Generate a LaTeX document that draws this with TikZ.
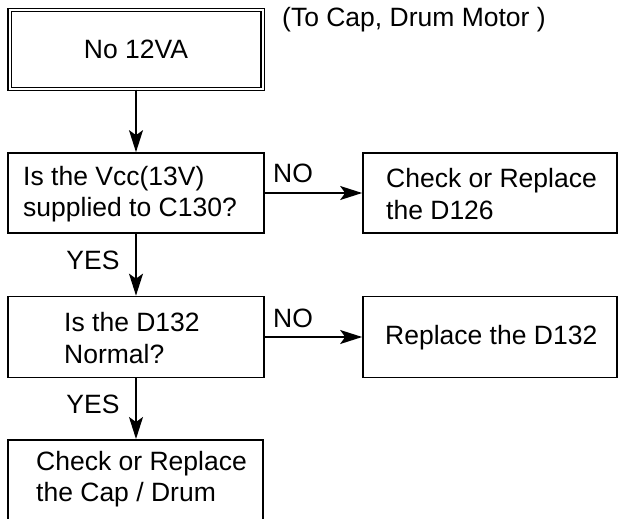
\documentclass[tikz,border=0pt]{standalone}
\usepackage{fontspec}
\setmainfont{Liberation Sans}
\usetikzlibrary{arrows.meta}
\begin{document}
\begin{tikzpicture}[x=1pt,y=-1pt,
  every node/.style={font=\fontsize{26.5}{31.5}\selectfont, inner sep=0pt},
  box/.style={draw, line width=1.7pt, minimum width=256pt, minimum height=81pt},
  arr/.style={draw, line width=1.7pt, -{Stealth[length=22pt,width=14pt,inset=5pt]}},
  lbl/.style={inner sep=0pt}
]
\useasboundingbox (0,0) rectangle (618,519);
\begin{scope}
\clip (0,0) rectangle (618,519);
% top double box
\node[draw, line width=1.1pt, double, double distance=2pt, minimum width=253pt, minimum height=79pt] (start) at (136,49.5) {No 12VA};
\node[anchor=west] (note) at (282,20) {(To Cap, Drum Motor )};
% row 1
\node[box, minimum height=80pt] (q1) at (136,193) {};
\node[anchor=west, align=left] at (23,194) {Is the Vcc(13V)\\supplied to C130?};
\node[box, minimum width=254pt, minimum height=80pt] (r1) at (490,193) {};
\node[anchor=west, align=left] at (386,194) {Check or Replace\\the D126};
% row 2
\node[box] (q2) at (136,337) {};
\node[anchor=west, align=left] at (64,338) {Is the D132\\Normal?};
\node[box, minimum width=254pt] (r2) at (490,337) {};
\node[anchor=west] at (385,338) {Replace the D132};
% bottom box
\node[box, minimum width=255pt, minimum height=120pt, anchor=north] (r3) at (135.5,439) {};
\node[anchor=west, align=left] at (36,479) {Check or Replace\\the Cap / Drum};
\end{scope}
% connectors
\draw[arr] (start.south) -- (q1.north);
\draw[arr] (q1.east) -- (r1.west);
\draw[arr] (q1.south) -- (q2.north);
\draw[arr] (q2.east) -- (r2.west);
\draw[arr] (q2.south) -- (q2.south |- r3.north);
% labels
\node[lbl] (no1) at (293,173) {NO};
\node[lbl] (yes1) at (93,260) {YES};
\node[lbl] (no2) at (293,318) {NO};
\node[lbl] (yes2) at (93,404) {YES};
\end{tikzpicture}
\end{document}
